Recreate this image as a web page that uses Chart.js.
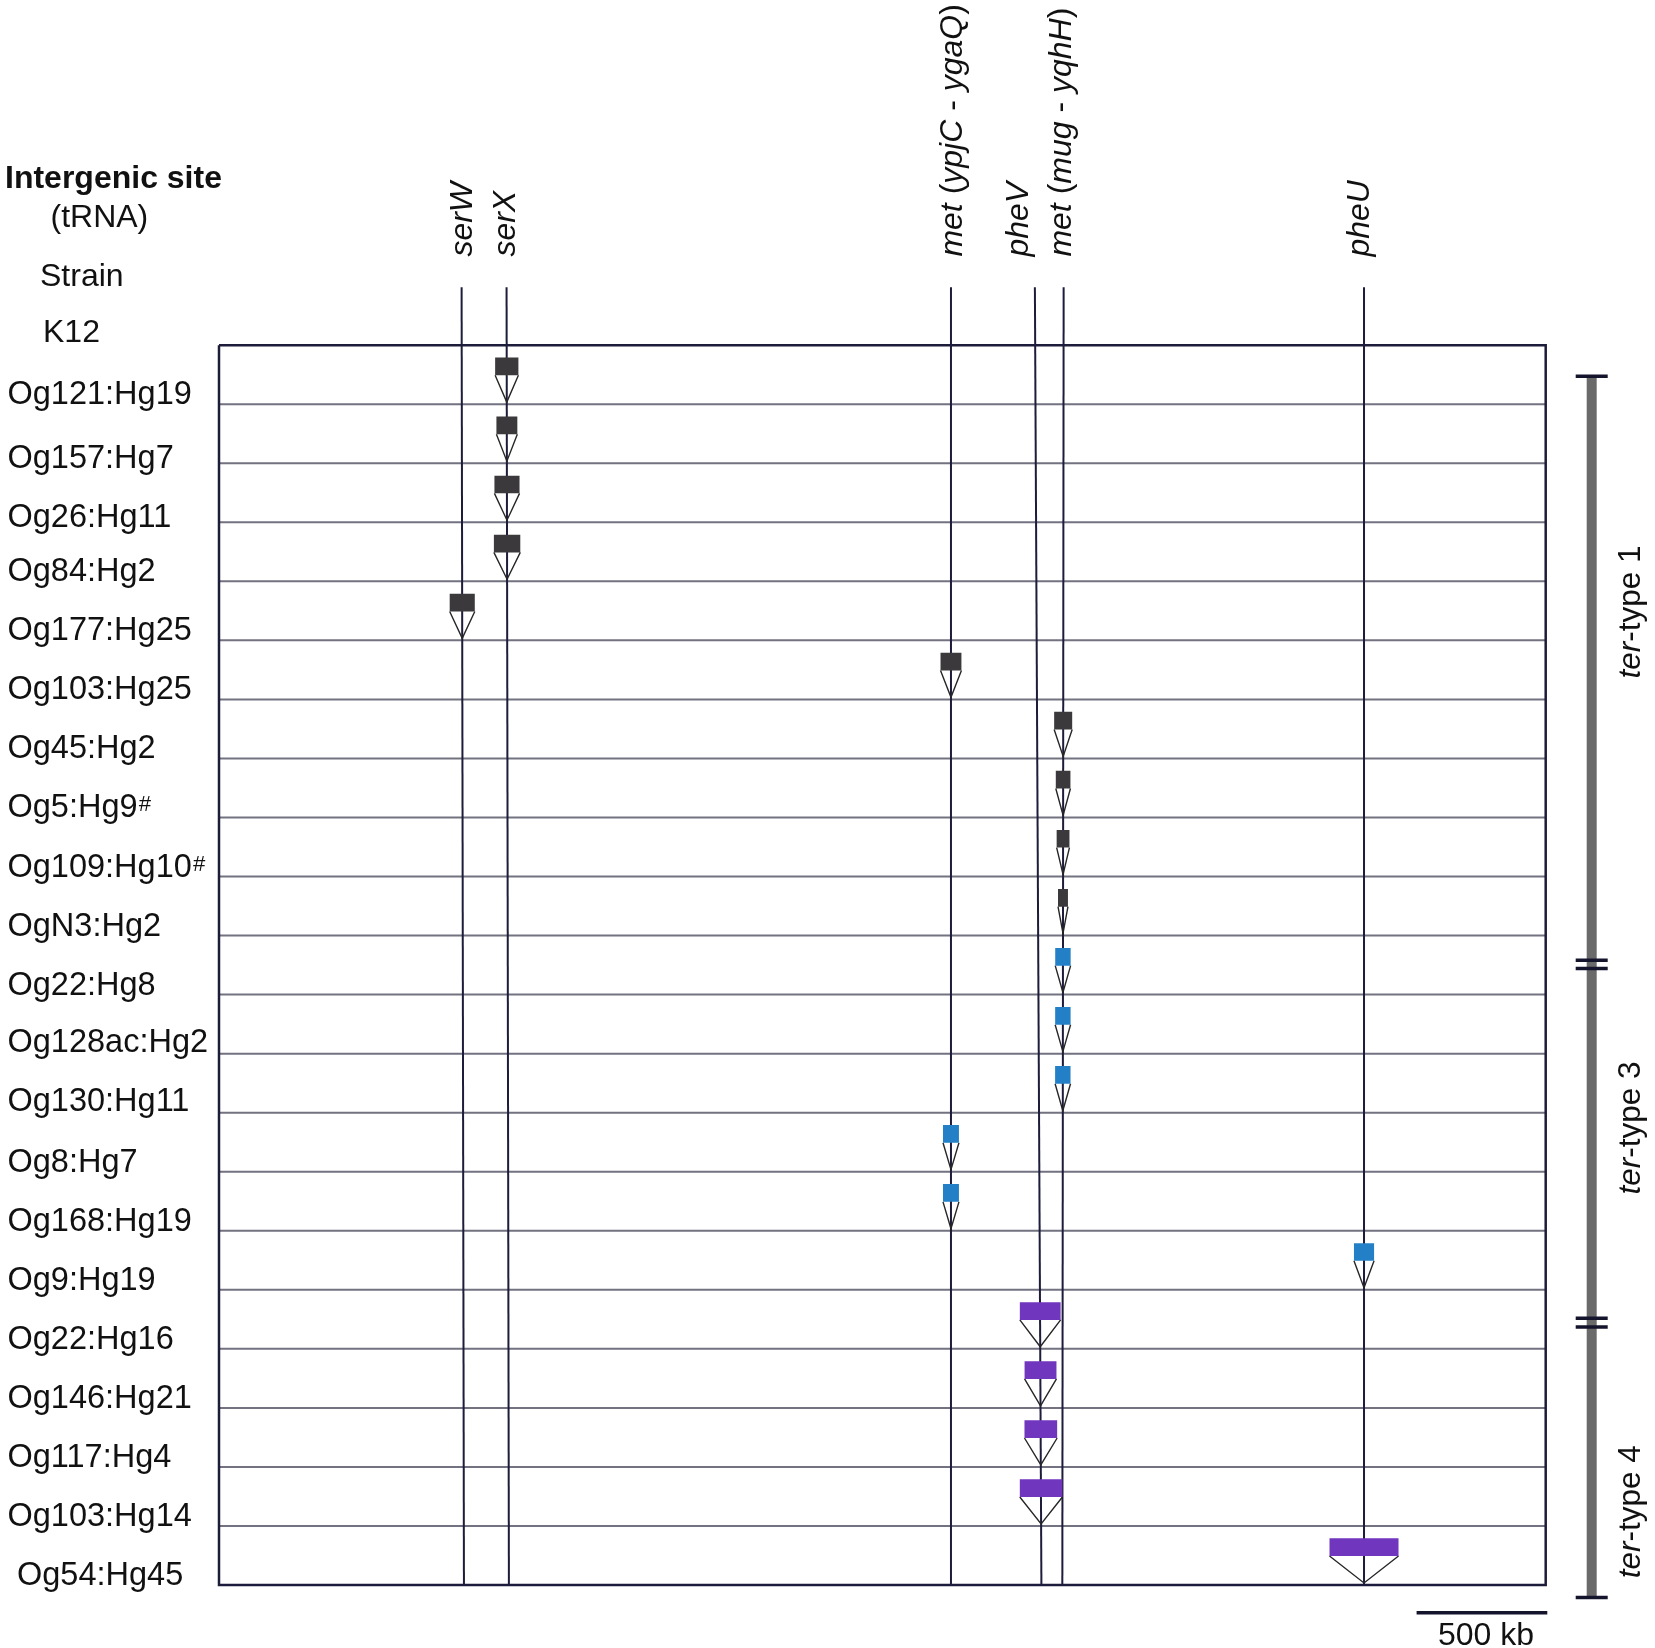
<!DOCTYPE html>
<html>
<head>
<meta charset="utf-8">
<title>Intergenic insertion sites</title>
<script src="https://cdn.jsdelivr.net/npm/chart.js@4.4.1/dist/chart.umd.min.js"></script>
<style>
  html, body { margin: 0; padding: 0; background: #fff; }
  .graph-container { position: relative; width: 1655px; height: 1648px; }
</style>
</head>
<body>
<div class="graph-container"><canvas id="chart"></canvas></div>
<script>
// genome sites (K12 coordinates, kb) - top and bottom end of each drawn line
const genes = ['serW', 'serX', 'metY', 'pheV', 'metM', 'pheU'];
const geneLabels = [
  '<i>serW</i>',
  '<i>serX</i>',
  '<i>met</i> (<i>ypjC</i> - <i>ygaQ</i>)',
  '<i>pheV</i>',
  '<i>met</i> (<i>mug</i> - <i>yqhH</i>)',
  '<i>pheU</i>'
];
const geneKbTop = [928, 1100, 2800, 3121, 3231, 4380];
const geneKbBottom = [937, 1109, 2800, 3146, 3226, 4380];

// strains, one insertion each
const strains = [
  'Og121:Hg19', 'Og157:Hg7', 'Og26:Hg11', 'Og84:Hg2', 'Og177:Hg25',
  'Og103:Hg25', 'Og45:Hg2', 'Og5:Hg9#', 'Og109:Hg10#', 'OgN3:Hg2',
  'Og22:Hg8', 'Og128ac:Hg2', 'Og130:Hg11', 'Og8:Hg7', 'Og168:Hg19',
  'Og9:Hg19', 'Og22:Hg16', 'Og146:Hg21', 'Og117:Hg4', 'Og103:Hg14',
  'Og54:Hg45'
];
const insertSite = [
  'serX', 'serX', 'serX', 'serX', 'serW',
  'metY', 'metM', 'metM', 'metM', 'metM',
  'metM', 'metM', 'metM', 'metY', 'metY',
  'pheU', 'pheV', 'pheV', 'pheV', 'pheV',
  'pheU'
];
const insertKb = [
  89, 80, 96, 101, 96,
  80, 69, 56, 49, 38,
  59, 59, 59, 61, 61,
  77, 156, 122, 125, 163,
  264
];
const terType = [
  1, 1, 1, 1, 1,
  1, 1, 1, 1, 1,
  3, 3, 3, 3, 3,
  3, 4, 4, 4, 4,
  4
];

// ter-type groups (row units)
const groupNames = ['<i>ter</i>-type 1', '<i>ter</i>-type 3', '<i>ter</i>-type 4'];
const groupStart = [0.525, 10.56, 16.63];
const groupEnd = [10.42, 16.48, 21.21];

const genomeKb = 5075;
const scaleBarKb = 500;

// ---- styling ----
const terColors = { 1: '#3b393b', 3: '#2380c6', 4: '#7036bd' };
const FONT = '"Liberation Sans", Arial, Helvetica, sans-serif';
const INK = '#1d1d3b';
const LINE_TOP = -0.98;
const BOX_TOP = 0.21, BOX_BOT = 0.51, TIP = 0.965;
const labelShift = { serW: 1, serX: 0, metY: 2, pheV: -16, metM: -2, pheU: -4 };
const labelNudge = { 1: 5, 2: 5, 11: -2, 12: -2 };
const groupLabelAt = [4.52, 13.26, 19.76];

const nRows = strains.length;

function seg(points, color, width, order, extra) {
  return Object.assign({
    data: points.map(p => ({ x: p[0], y: p[1] })),
    borderColor: color,
    borderWidth: width,
    pointRadius: 0,
    pointHoverRadius: 0,
    fill: false,
    clip: false,
    order: order
  }, extra || {});
}

function geneX(gi, row) {
  const t = (row - LINE_TOP) / (nRows - LINE_TOP);
  return geneKbTop[gi] + (geneKbBottom[gi] - geneKbTop[gi]) * t;
}

const datasets = [];
for (let r = 1; r < nRows; r++) {
  datasets.push(seg([[0, r], [genomeKb, r]], '#727280', 2, 5));
}
datasets.push(seg([[0, 0], [genomeKb, 0], [genomeKb, nRows], [0, nRows], [0, 0]], INK, 2.5, 4));
genes.forEach((g, i) => {
  datasets.push(seg([[geneKbTop[i], LINE_TOP], [geneKbBottom[i], nRows]], INK, 2, 3));
});
strains.forEach((s, r) => {
  const gi = genes.indexOf(insertSite[r]);
  const cx = geneX(gi, r + TIP);
  const half = insertKb[r] / 2;
  const col = terColors[terType[r]];
  datasets.push(seg([[cx - half, r + BOX_BOT], [cx, r + TIP], [cx + half, r + BOX_BOT]], '#262626', 1.4, 1));
  datasets.push(seg([[cx - half, r + BOX_TOP], [cx + half, r + BOX_TOP], [cx + half, r + BOX_BOT], [cx - half, r + BOX_BOT], [cx - half, r + BOX_TOP]],
    col, 0, 0, { fill: 'shape', backgroundColor: col }));
});

function parseRich(markup) {
  return markup.split(/(<i>.*?<\/i>)/).filter(Boolean).map(p => {
    const it = p.startsWith('<i>');
    return { text: it ? p.slice(3, -4) : p, italic: it };
  });
}

function richText(ctx, markup, x, y, size, opts) {
  opts = opts || {};
  const parts = parseRich(markup);
  const fontFor = p => (p.italic ? 'italic ' : '') + (opts.bold ? 'bold ' : '') + size + 'px ' + FONT;
  let total = 0;
  parts.forEach(p => { ctx.font = fontFor(p); p.w = ctx.measureText(p.text).width; total += p.w; });
  ctx.save();
  ctx.translate(x, y);
  if (opts.rotate) ctx.rotate(opts.rotate);
  ctx.textAlign = 'left';
  ctx.textBaseline = opts.baseline || 'alphabetic';
  ctx.fillStyle = opts.color || '#111';
  let cx = opts.align === 'center' ? -total / 2 : 0;
  parts.forEach(p => { ctx.font = fontFor(p); ctx.fillText(p.text, cx, 0); cx += p.w; });
  ctx.restore();
  return total;
}

const annotations = {
  id: 'annotations',
  afterDraw(chart) {
    const ctx = chart.ctx;
    const xs = chart.scales.x, ys = chart.scales.y;
    const area = chart.chartArea;

    // header
    richText(ctx, 'Intergenic site', 5, ys.getPixelForValue(-2.67), 32, { bold: true });
    richText(ctx, '(tRNA)', 50.5, ys.getPixelForValue(-2), 32);
    richText(ctx, 'Strain', 40, ys.getPixelForValue(-1), 32);
    richText(ctx, 'K12', 43, ys.getPixelForValue(-0.05), 32);

    // strain labels
    strains.forEach((s, r) => {
      const mark = s.endsWith('#');
      const name = mark ? s.slice(0, -1) : s;
      const x0 = r === nRows - 1 ? 17 : 7.5;
      const y = ys.getPixelForValue(r + 1) + (labelNudge[r] || 0);
      const w = richText(ctx, name, x0, y, 32.5);
      if (mark) richText(ctx, '<i>#</i>', x0 + w + 1, y - 6, 22);
    });

    // site labels
    genes.forEach((g, i) => {
      const x = xs.getPixelForValue(geneKbTop[i]) + labelShift[g];
      richText(ctx, geneLabels[i], x, ys.getPixelForValue(-1.5), 32,
        { rotate: -Math.PI / 2, baseline: 'middle' });
    });

    // ter-type bracket
    const bx = area.right + 46;
    ctx.save();
    ctx.strokeStyle = '#6a6a6a';
    ctx.lineWidth = 10;
    ctx.beginPath();
    ctx.moveTo(bx, ys.getPixelForValue(groupStart[0]));
    ctx.lineTo(bx, ys.getPixelForValue(groupEnd[groupEnd.length - 1]));
    ctx.stroke();
    ctx.strokeStyle = '#14142c';
    ctx.lineWidth = 3.5;
    groupStart.concat(groupEnd).forEach(v => {
      const y = ys.getPixelForValue(v);
      ctx.beginPath();
      ctx.moveTo(bx - 16, y);
      ctx.lineTo(bx + 16, y);
      ctx.stroke();
    });
    ctx.restore();
    groupNames.forEach((n, i) => {
      richText(ctx, n, area.right + 86, ys.getPixelForValue(groupLabelAt[i]), 31.5,
        { rotate: -Math.PI / 2, baseline: 'middle', align: 'center' });
    });

    // scale bar
    const len = xs.getPixelForValue(scaleBarKb) - xs.getPixelForValue(0);
    const right = area.right + 1.6;
    const sy = ys.getPixelForValue(21.47);
    ctx.save();
    ctx.strokeStyle = '#14142c';
    ctx.lineWidth = 3.5;
    ctx.beginPath();
    ctx.moveTo(right - len, sy);
    ctx.lineTo(right, sy);
    ctx.stroke();
    ctx.restore();
    richText(ctx, scaleBarKb + ' kb', right - len / 2 + 4, ys.getPixelForValue(22.02), 32, { align: 'center' });
  }
};

new Chart(document.getElementById('chart').getContext('2d'), {
  type: 'line',
  data: { datasets: datasets },
  options: {
    responsive: true,
    maintainAspectRatio: false,
    devicePixelRatio: 1,
    animation: false,
    events: [],
    layout: { padding: { left: 219, right: 109.3, top: 287.3, bottom: 63 } },
    plugins: { legend: { display: false }, tooltip: { enabled: false } },
    scales: {
      x: { type: 'linear', min: 0, max: genomeKb, display: false },
      y: { type: 'linear', min: LINE_TOP, max: nRows, reverse: true, display: false }
    }
  },
  plugins: [annotations]
});
</script>
</body>
</html>
